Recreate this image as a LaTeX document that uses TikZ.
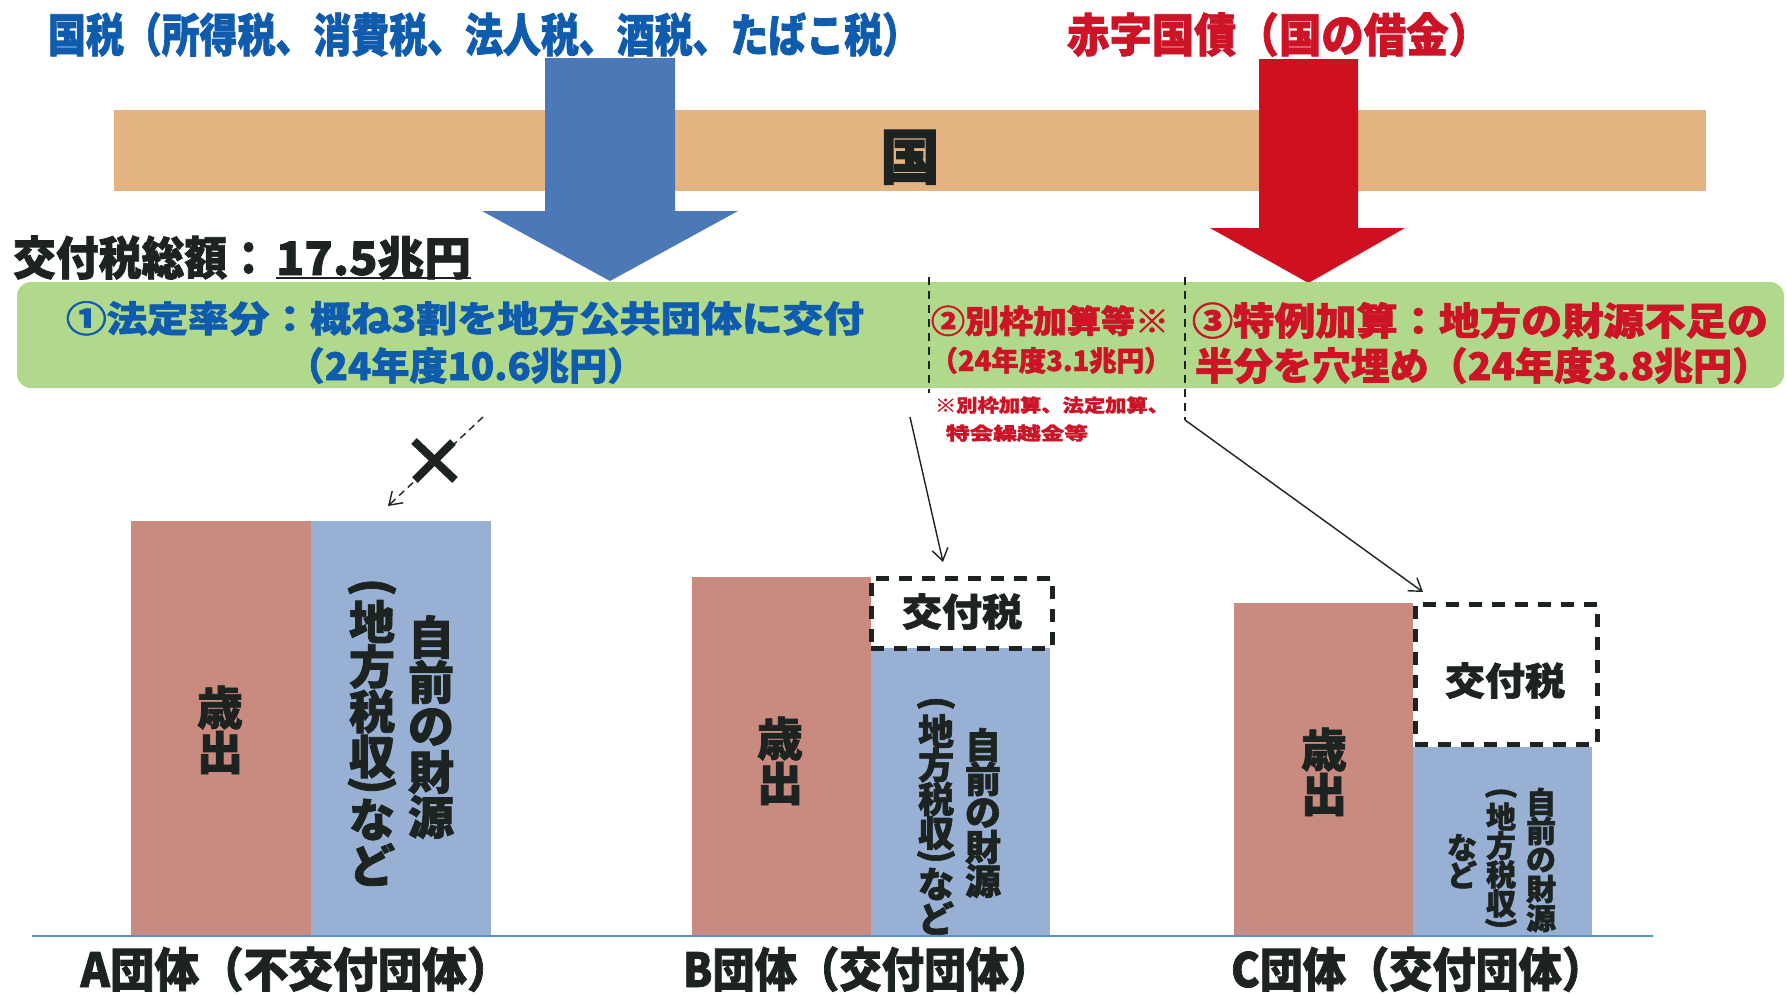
\documentclass[tikz,border=0pt]{standalone}
\usepackage{fontspec}
\usepackage{graphicx}
\usetikzlibrary{arrows.meta}
\newfontfamily\jp{Noto Sans CJK JP}[BoldFeatures={FakeBold=1.6}]
\definecolor{tanband}{HTML}{E4B382}
\definecolor{greenband}{HTML}{B0D98B}
\definecolor{arrowblue}{HTML}{4B79B7}
\definecolor{arrowred}{HTML}{CE1020}
\definecolor{pinkbar}{HTML}{C98B80}
\definecolor{bluebar}{HTML}{97B0D3}
\definecolor{tblue}{HTML}{0F5CAE}
\definecolor{tred}{HTML}{CC1426}
\definecolor{tblack}{HTML}{1C2320}
\definecolor{baseblue}{HTML}{5A8ED0}
\newcommand{\fitw}[2]{\resizebox{#1}{\height}{#2}}
\newlength\vpitch
\newlength\ppitch
\newcommand{\vch}[1]{\hbox to \vpitch{\hss\vbox to \vpitch{\vss\hbox{#1}\vss}\hss}}
\newcommand{\vpo}{\hbox to \vpitch{\hss\vbox to \ppitch{\vss\hbox{\rotatebox[origin=c]{-90}{(}}\vss}\hss}}
\newcommand{\vpc}{\hbox to \vpitch{\hss\vbox to \ppitch{\vss\hbox{\rotatebox[origin=c]{-90}{)}}\vss}\hss}}
\newcommand{\vcol}[3]{\setlength\vpitch{#1}\setlength\ppitch{#2}\vbox{\offinterlineskip #3}}
\tikzset{
  tx/.style={inner sep=0pt, outer sep=0pt},
  fs/.style={font=\jp\bfseries\fontsize{#1}{#1}\selectfont},
  barbox/.style={inner sep=0pt, outer sep=0pt, anchor=north west, draw=none},
  givebox/.style={draw=tblack, line width=5pt, dash pattern=on 13pt off 10pt, fill=white, inner sep=0pt, outer sep=0pt, anchor=north west},
  pointer/.style={line width=1.4pt, draw=tblack, -{Straight Barb[length=12pt,width=16pt,line width=1.4pt]}},
  nopointer/.style={line width=1.4pt, draw=tblack, dash pattern=on 7pt off 5pt, -{Straight Barb[length=12pt,width=16pt,line width=1.4pt]}},
  divider/.style={line width=1.3pt, draw=tblack, dash pattern=on 8pt off 6pt},
}
\begin{document}
\begin{tikzpicture}[x=1pt, y=-1pt]
\useasboundingbox (0,0) rectangle (1787,994);
\fill[white] (0,0) rectangle (1787,994);

% national band
\node[barbox, fill=tanband, minimum width=1592pt, minimum height=81pt] (nation) at (114,110) {};

% big arrows
\fill[arrowblue] (545,58) -- (675,58) -- (675,211) -- (738,211) -- (610,281) -- (482,211) -- (545,211) -- cycle;
\fill[arrowred] (1259,59) -- (1358,59) -- (1358,228) -- (1405,228) -- (1308.5,283) -- (1210,228) -- (1259,228) -- cycle;

\node[tx, fs=60, text=tblack, anchor=base] (kuni) at (910,179) {国};

% titles
\node[tx, fs=46, text=tblue, anchor=base] (natl) at (484,52) {\fitw{872pt}{国税（所得税、消費税、法人税、酒税、たばこ税）}};
\node[tx, fs=46, text=tred, anchor=base] (debt) at (1279,52) {\fitw{424pt}{赤字国債（国の借金）}};

% total
\node[tx, fs=46, text=tblack, anchor=base] (total) at (141.5,275) {\fitw{257pt}{交付税総額：}};
\node[tx, fs=46, text=tblack, anchor=base] (amount) at (373.5,275) {\fitw{195pt}{17.5兆円}};
\draw[tblack, line width=2.5pt] (amount.south west |- 0,278) -- (amount.south east |- 0,278);

% green band
\node[barbox, fill=greenband, rounded corners=14pt, minimum width=1767pt, minimum height=106pt] (grant) at (17,282) {};

\node[tx, fs=36, text=tblue, anchor=base] (r1a) at (465,332) {\fitw{798pt}{①法定率分：概ね3割を地方公共団体に交付}};
\node[tx, fs=38, text=tblue, anchor=base] (r1b) at (466,380) {\fitw{359pt}{（24年度10.6兆円）}};

\node[tx, fs=32, text=tred, anchor=base] (r2a) at (1050,333) {\fitw{238pt}{②別枠加算等※}};
\node[tx, fs=28, text=tred, anchor=base] (r2b) at (1051,371) {\fitw{241pt}{（24年度3.1兆円）}};

\node[tx, fs=38, text=tred, anchor=base west] (r3a) at (1192,335) {\fitw{576pt}{③特例加算：地方の財源不足の}};
\node[tx, fs=38, text=tred, anchor=base west] (r3b) at (1195,380) {\fitw{576pt}{半分を穴埋め（24年度3.8兆円）}};

\node[tx, fs=18, text=tred, anchor=base west] (n1) at (935,412) {\fitw{234pt}{※別枠加算、法定加算、}};
\node[tx, fs=18, text=tred, anchor=base west] (n2) at (946,440) {\fitw{142pt}{特会繰越金等}};

% dividers
\coordinate (d1t) at (929,277);
\coordinate (d1b) at (929,393);
\coordinate (d2t) at (1185,277);
\coordinate (d2b) at (1185,420);
\draw[divider] (d1t) -- (d1b);
\draw[divider] (d2t) -- (d2b);

% bars A
\node[barbox, fill=pinkbar, minimum width=180pt, minimum height=415pt] (apink) at (131,521) {};
\node[barbox, fill=bluebar, minimum width=180pt, minimum height=415pt] (ablue) at (311,521) {};
% bars B
\node[barbox, fill=pinkbar, minimum width=179pt, minimum height=359pt] (bpink) at (692,577) {};
\node[barbox, fill=bluebar, minimum width=179pt, minimum height=291pt] (bblue) at (871,645) {};
\node[givebox, minimum width=181pt, minimum height=70pt] (bgive) at (871,578) {};
% bars C
\node[barbox, fill=pinkbar, minimum width=179pt, minimum height=333pt] (cpink) at (1234,603) {};
\node[barbox, fill=bluebar, minimum width=179pt, minimum height=189pt] (cblue) at (1413,747) {};
\node[givebox, minimum width=182pt, minimum height=140pt] (cgive) at (1415,604) {};

% base line
\coordinate (gl) at (32,936);
\coordinate (gr) at (1653,936);
\draw[baseblue, line width=2.5pt] (gl) -- (gr);

% texts in bars
\node[tx, fs=46, text=tblack] (aexp) at (220,730) {\vcol{45pt}{18pt}{\vch{歳}\vch{出}}};
\node[tx, fs=46, text=tblack] (aown) at (431,727) {\vcol{45pt}{18pt}{\vch{自}\vch{前}\vch{の}\vch{財}\vch{源}}};
\node[tx, fs=46, text=tblack] (atax) at (372,734) {\vcol{45pt}{18pt}{\vpo\vch{地}\vch{方}\vch{税}\vch{収}\vpc\vch{な}\vch{ど}}};

\node[tx, fs=46, text=tblack] (bexp) at (780,761) {\vcol{45pt}{18pt}{\vch{歳}\vch{出}}};
\node[tx, fs=36, text=tblack] (bown) at (983,813) {\vcol{34pt}{17pt}{\vch{自}\vch{前}\vch{の}\vch{財}\vch{源}}};
\node[tx, fs=36, text=tblack] (btax) at (936,816) {\vcol{34pt}{17pt}{\vpo\vch{地}\vch{方}\vch{税}\vch{収}\vpc\vch{な}\vch{ど}}};
\node[tx, fs=38, text=tblack, anchor=base] (bgt) at (962,626) {\fitw{120pt}{交付税}};

\node[tx, fs=46, text=tblack] (cexp) at (1324,772) {\vcol{45pt}{18pt}{\vch{歳}\vch{出}}};
\node[tx, fs=30, text=tblack] (cown) at (1541,860) {\vcol{29pt}{14pt}{\vch{自}\vch{前}\vch{の}\vch{財}\vch{源}}};
\node[tx, fs=30, text=tblack] (ctax) at (1501,860) {\vcol{29pt}{14pt}{\vpo\vch{地}\vch{方}\vch{税}\vch{収}\vpc}};
\node[tx, fs=30, text=tblack] (cetc) at (1462,861) {\vcol{27pt}{14pt}{\vch{な}\vch{ど}}};
\node[tx, fs=38, text=tblack, anchor=base] (cgt) at (1505,695) {\fitw{120pt}{交付税}};

% labels
\node[tx, fs=47, text=tblack, anchor=base] (alab) at (296,987) {\fitw{431pt}{A団体（不交付団体）}};
\node[tx, fs=47, text=tblack, anchor=base] (blab) at (867,987) {\fitw{368pt}{B団体（交付団体）}};
\node[tx, fs=47, text=tblack, anchor=base] (clab) at (1418,987) {\fitw{374pt}{C団体（交付団体）}};

% connectors
\coordinate (p1s) at (910,417);
\coordinate (p1e) at (943,562);
\draw[pointer] (p1s) -- (p1e);
\coordinate (p3e) at (1423,592);
\draw[pointer] (d2b) -- (p3e);
\coordinate (x1s) at (483,417);
\coordinate (x1e) at (388,506);
\draw[nopointer] (x1s) -- (x1e);
% cross mark
\coordinate (xa) at (414,441);
\coordinate (xb) at (455,480);
\coordinate (xc) at (453,442);
\coordinate (xd) at (415,480);
\draw[tblack, line width=8pt] (xa) -- (xb);
\draw[tblack, line width=8pt] (xc) -- (xd);
\end{tikzpicture}
\end{document}
